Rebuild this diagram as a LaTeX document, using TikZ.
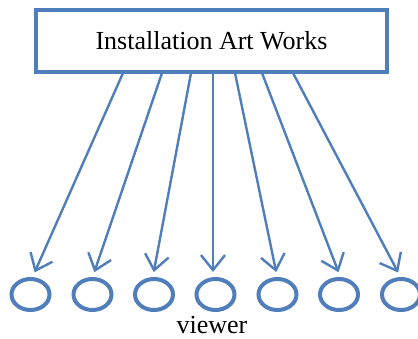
\documentclass[tikz,border=0pt]{standalone}
\usepackage{fontspec}
\setmainfont{Liberation Serif}
\usetikzlibrary{arrows.meta,shapes.geometric}
\definecolor{lineblue}{RGB}{79,126,187}
\tikzset{
  titlebox/.style={draw=lineblue, line width=4pt, minimum width=351pt, minimum height=62pt,
    inner sep=0pt, font=\fontsize{26}{30}\selectfont},
  viewerring/.style={draw=lineblue, line width=4pt, ellipse, minimum width=38pt,
    minimum height=31pt, inner sep=0pt},
  gaze/.style={draw=lineblue, line width=2.4pt,
    -{Straight Barb[length=15pt,width=24pt,line width=2.4pt]}, shorten >=4pt},
}
\begin{document}
\begin{tikzpicture}[x=1pt,y=-1pt]
  \useasboundingbox (0,0) rectangle (418,338);
  \node[titlebox] (box) at (211.5,41) {Installation Art Works};
  % viewers in a row
  \foreach \i/\x in {1/30.5,2/92.5,3/154,4/215.5,5/277.5,6/339,7/401}
    \node[viewerring] (v\i) at (\x,294.5) {};
  % arrow start points along the bottom edge of the box
  \foreach \i/\x in {1/123,2/162,3/191,4/213,5/235,6/262,7/293}
    \coordinate (s\i) at (\x,73);
  \foreach \i/\x in {1/33,2/93,3/153,4/213,5/277,6/340,7/400}
    \coordinate (t\i) at (\x,276);
  \foreach \i in {1,...,7}
    \draw[gaze] (s\i) -- (t\i);
  \node[anchor=base, font=\fontsize{26}{30}\selectfont] (lbl) at (212,333) {viewer};
\end{tikzpicture}
\end{document}
